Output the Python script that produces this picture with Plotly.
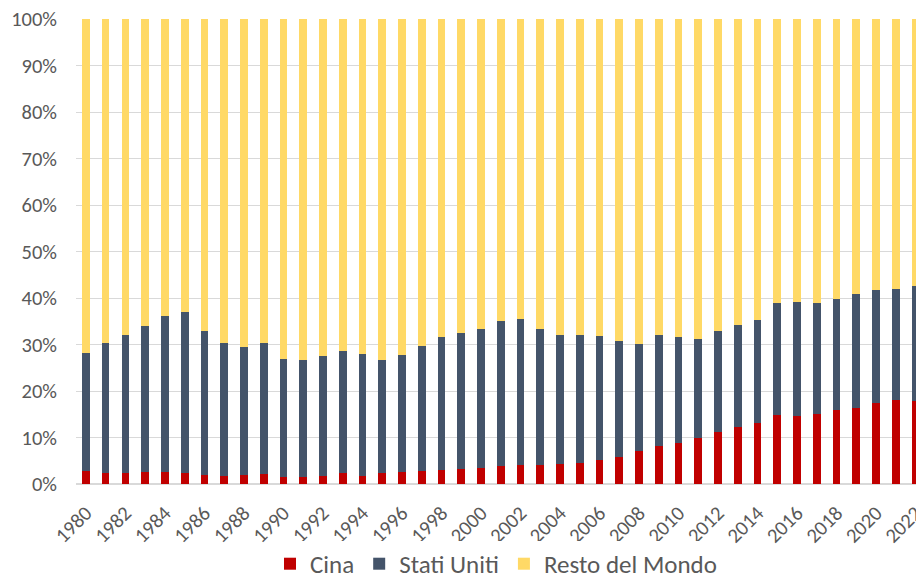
import plotly.graph_objects as go

years = list(range(1980, 2023))

# Share of China (%)
cina = [2.7, 2.4, 2.4, 2.5, 2.5, 2.4, 2.0, 1.8, 2.0, 2.1,
        1.6, 1.6, 1.8, 2.3, 1.8, 2.3, 2.5, 2.9, 3.0, 3.2,
        3.5, 3.8, 4.1, 4.1, 4.3, 4.6, 5.2, 5.9, 7.1, 8.2,
        8.9, 10.0, 11.2, 12.3, 13.1, 14.8, 14.6, 15.1, 16.0, 16.3,
        17.4, 18.1, 17.9]

# Cumulative share China + United States (%)
cina_usa = [28.1, 30.4, 32.0, 33.9, 36.2, 37.0, 32.9, 30.4, 29.4, 30.3,
            26.8, 26.7, 27.5, 28.6, 27.9, 26.7, 27.8, 29.7, 31.6, 32.4,
            33.4, 35.1, 35.4, 33.4, 32.0, 32.0, 31.8, 30.8, 30.1, 32.1,
            31.6, 31.1, 32.8, 34.2, 35.2, 39.0, 39.2, 39.0, 39.8, 40.8,
            41.8, 41.9, 42.6]

stati_uniti = [round(t - c, 1) for t, c in zip(cina_usa, cina)]
resto = [round(100 - t, 1) for t in cina_usa]

tick_years = list(range(1980, 2023, 2))
y_ticks = [i / 10 for i in range(11)]

FONT = "Calibri, Carlito, 'Open Sans', sans-serif"
TXT = "#595959"

fig = go.Figure()
fig.add_trace(go.Bar(x=years, y=[v / 100 for v in cina], name="Cina",
                     marker_color="#C00000", marker_line_width=0))
fig.add_trace(go.Bar(x=years, y=[v / 100 for v in stati_uniti], name="Stati Uniti",
                     marker_color="#44546A", marker_line_width=0))
fig.add_trace(go.Bar(x=years, y=[v / 100 for v in resto], name="Resto del Mondo",
                     marker_color="#FFD966", marker_line_width=0))

fig.update_layout(
    barmode="stack",
    bargap=0.61,
    width=916, height=582,
    margin=dict(l=76, r=0, t=19, b=98, autoexpand=False),
    paper_bgcolor="white", plot_bgcolor="white",
    font=dict(family=FONT, color=TXT, size=20.5),
    showlegend=True,
    legend=dict(orientation="h", x=0.5, xanchor="center", xref="paper",
                y=0.031, yanchor="middle", yref="container",
                font=dict(size=25, color=TXT), traceorder="normal",
                itemwidth=30),
    xaxis=dict(range=[1979.5, 2022.02], tickvals=tick_years,
               ticktext=[str(y) for y in tick_years], tickangle=-45,
               showgrid=False, showline=True, linecolor="#D9D9D9", linewidth=1,
               ticks="", ticklabelstandoff=8, ticklabeloverflow="allow",
               automargin=False,
               tickfont=dict(size=20.5, color=TXT)),
    yaxis=dict(range=[0, 1], tickvals=y_ticks, tickformat=".0%",
               showgrid=True, gridcolor="#D9D9D9", gridwidth=1,
               zeroline=True, zerolinecolor="#D9D9D9", automargin=False,
               ticks="", ticklabelstandoff=18, tickfont=dict(size=20.5, color=TXT)),
)

fig.write_html("out.html")
